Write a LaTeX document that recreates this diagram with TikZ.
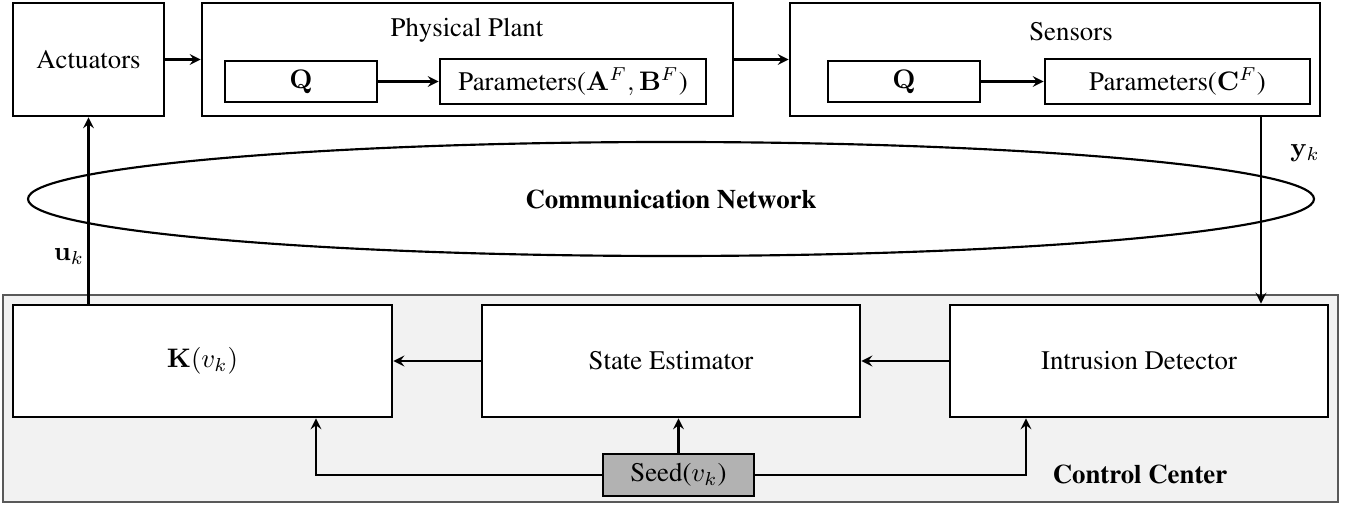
\documentclass[tikz,border=0pt]{standalone}
\usepackage[T1]{fontenc}
\usepackage{times}
\usepackage{amsmath}
\usetikzlibrary{shapes.geometric}
\newcommand\pxl{0.0131cm}
\begin{document}
\begin{tikzpicture}[
    x=\pxl, y=-\pxl,
    blk/.style = {draw, line width=1pt, rectangle, fill=white, text centered, inner sep=0pt},
    box/.style args = {#1x#2}{blk, minimum width=#1*\pxl, minimum height=#2*\pxl},
    net/.style = {draw, thick, ellipse, inner sep=0pt},
    wire/.style = {thick, ->, >=stealth},
  ]
  \useasboundingbox (0,0) rectangle (1348,506);

  % control center background
  \fill[black!5, draw=black!65, thin] (3,295) rectangle (1338,502);
  \node[font=\bfseries] (cclab) at (1140,474) {Control Center};

  % top row
  \node[box=151x113] (act) at (88.5,59.5) {Actuators};
  \node[box=531x113] (plant) at (467.5,59.5) {};
  \node (plantlab) at (467,30) {Physical Plant};
  \node[box=152x41] (plantq) at (301,81.5) {$\mathbf{Q}$};
  \node[box=266x45] (plantpar) at (573,81.5) {Parameters($\mathbf{A}^F,\mathbf{B}^F$)};
  \node[box=530x113] (sens) at (1055,59.5) {};
  \node (senslab) at (1071,32) {Sensors};
  \node[box=152x41] (sensq) at (904,81.5) {$\mathbf{Q}$};
  \node[box=265x45] (senspar) at (1177.5,81.5) {Parameters($\mathbf{C}^F$)};

  % network
  \node[net, minimum width=1286*\pxl, minimum height=114*\pxl, font=\bfseries] (net) at (671,199) {Communication Network};

  % control center
  \node[box=379x112] (K) at (202.5,361) {$\mathbf{K}(v_k)$};
  \node[box=378x112] (se) at (671,361) {State Estimator};
  \node[box=378x112] (id) at (1139,361) {Intrusion Detector};
  \node[box=151x42, fill=black!30] (seed) at (678.5,475) {Seed($v_k$)};

  \coordinate (ydown) at (1261,0);
  \coordinate (kin) at (316,0);
  \coordinate (idin) at (1026,0);

  \draw[wire] (act) -- (plant);
  \draw[wire] (plantq) -- (plantpar);
  \draw[wire] (plant) -- (sens);
  \draw[wire] (sensq) -- (senspar);

  \draw[wire] (sens.south -| ydown) -- (id.north -| ydown);
  \draw[wire] (K.north -| act.south) -- (act.south);
  \draw[wire] (id) -- (se);
  \draw[wire] (se) -- (K);

  \draw[wire] (seed.north) -- (seed.north |- se.south);
  \draw[wire] (seed.west) -| (kin |- K.south);
  \draw[wire] (seed.east) -| (idin |- id.south);

  \node (ulab) at (69,257) {$\mathbf{u}_k$};
  \node (ylab) at (1305,153) {$\mathbf{y}_k$};
\end{tikzpicture}
\end{document}
